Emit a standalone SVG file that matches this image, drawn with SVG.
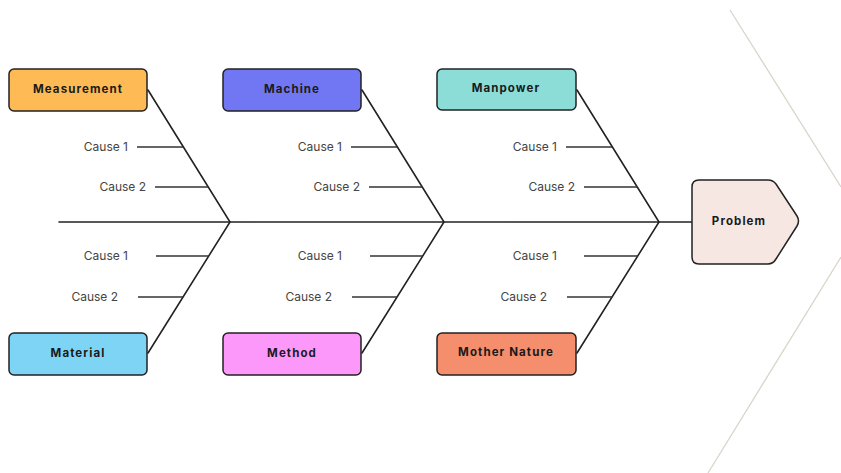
<svg xmlns="http://www.w3.org/2000/svg" width="841" height="473" viewBox="0 0 841 473">
<style>
.bg{fill:#ffffff}
.deco{stroke:#d9d5cb;stroke-width:1.3;fill:none}
.ln{stroke:#222;stroke-width:1.6;fill:none;stroke-linecap:round}
.cl{stroke:#333;stroke-width:1.5;fill:none}
.box{stroke:#222;stroke-width:1.5}
.lbl{font-family:Inter,"Liberation Sans",sans-serif;font-weight:700;font-size:11.5px;letter-spacing:1.1px;fill:#1a1a1a;text-anchor:middle}
.cause{font-family:Inter,"Liberation Sans",sans-serif;font-size:12px;fill:#444;text-anchor:end}
</style>
<rect class="bg" x="0" y="0" width="841" height="473"/>
<g id="background">
<line class="deco" x1="730" y1="10" x2="841" y2="187"/>
<line class="deco" x1="841" y1="257" x2="708" y2="473"/>
</g>
<g id="connectors">
<line class="ln" x1="59" y1="222" x2="692" y2="222"/>
<polyline class="ln" points="148,90 230,222 148,353"/>
<polyline class="ln" points="362,90 444,222 362,353"/>
<polyline class="ln" points="577,90 659,222 577,353"/>
<line class="cl" x1="137" y1="147" x2="183" y2="147"/>
<line class="cl" x1="155" y1="187" x2="208" y2="187"/>
<line class="cl" x1="156" y1="256" x2="209" y2="256"/>
<line class="cl" x1="138" y1="297" x2="183" y2="297"/>
<line class="cl" x1="351" y1="147" x2="397" y2="147"/>
<line class="cl" x1="369" y1="187" x2="422" y2="187"/>
<line class="cl" x1="370" y1="256" x2="423" y2="256"/>
<line class="cl" x1="352" y1="297" x2="397" y2="297"/>
<line class="cl" x1="566" y1="147" x2="612" y2="147"/>
<line class="cl" x1="584" y1="187" x2="637" y2="187"/>
<line class="cl" x1="584" y1="256" x2="638" y2="256"/>
<line class="cl" x1="567" y1="297" x2="612" y2="297"/>
</g>
<g id="causes">
<text class="cause" x="128" y="151">Cause 1</text>
<text class="cause" x="146" y="191">Cause 2</text>
<text class="cause" x="128" y="260">Cause 1</text>
<text class="cause" x="118" y="301">Cause 2</text>
<text class="cause" x="342" y="151">Cause 1</text>
<text class="cause" x="360" y="191">Cause 2</text>
<text class="cause" x="342" y="260">Cause 1</text>
<text class="cause" x="332" y="301">Cause 2</text>
<text class="cause" x="557" y="151">Cause 1</text>
<text class="cause" x="575" y="191">Cause 2</text>
<text class="cause" x="557" y="260">Cause 1</text>
<text class="cause" x="547" y="301">Cause 2</text>
</g>
<g id="measurement">
<rect class="box" x="9" y="69" width="138" height="42" rx="5" fill="#fdba55"/>
<text class="lbl" x="78" y="93">Measurement</text>
</g>
<g id="machine">
<rect class="box" x="223" y="69" width="138" height="42" rx="5" fill="#7177f2"/>
<text class="lbl" x="292" y="93">Machine</text>
</g>
<g id="manpower">
<rect class="box" x="437" y="69" width="139" height="41" rx="5" fill="#8cdcd8"/>
<text class="lbl" x="506" y="92">Manpower</text>
</g>
<g id="material">
<rect class="box" x="9" y="333" width="138" height="42" rx="5" fill="#7ed4f5"/>
<text class="lbl" x="78" y="357">Material</text>
</g>
<g id="method">
<rect class="box" x="223" y="333" width="138" height="42" rx="5" fill="#fd98fb"/>
<text class="lbl" x="292" y="357">Method</text>
</g>
<g id="mother-nature">
<rect class="box" x="437" y="333" width="139" height="42" rx="5" fill="#f48e6d"/>
<text class="lbl" x="506" y="356">Mother Nature</text>
</g>
<g id="problem">
<path class="box" fill="#f6e7e3" d="M699,180 H768 Q773,180 776,184 L797,216 Q800,221 797,226 L776,259 Q773,264 768,264 H699 Q692,264 692,257 V187 Q692,180 699,180 Z"/>
<text class="lbl" x="739" y="225">Problem</text>
</g>
</svg>
